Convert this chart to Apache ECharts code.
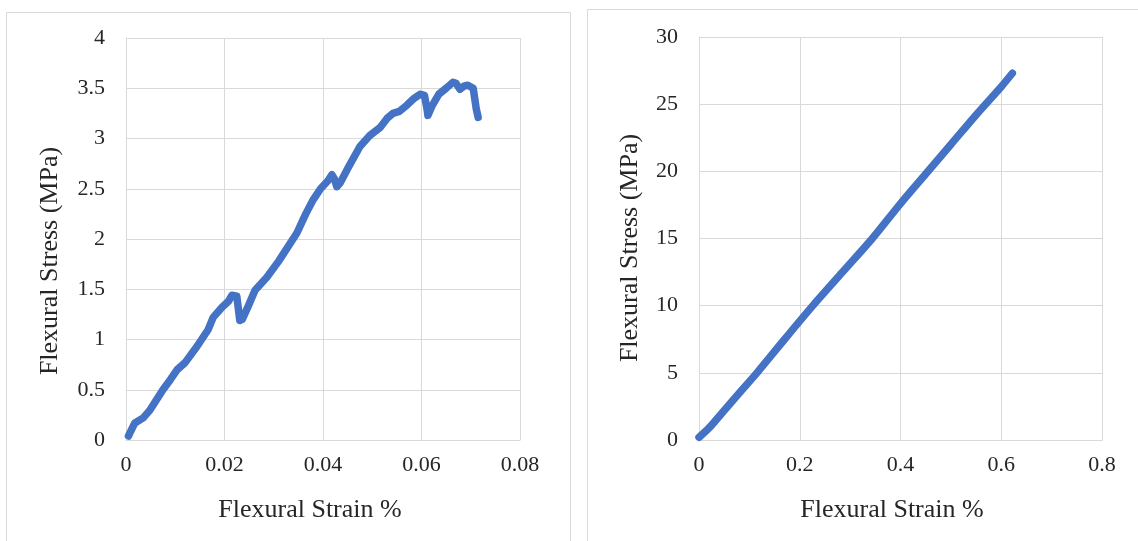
<!DOCTYPE html>
<html>
<head>
<meta charset="utf-8">
<script src="https://cdn.jsdelivr.net/npm/echarts@6/dist/echarts.min.js"></script>
<style>
html,body{margin:0;padding:0;background:#fff;}
#chart{width:1138px;height:541px;}
</style>
</head>
<body>
<div id="chart"></div>
<script>
// Left panel: strain (%) vs stress (MPa)
const leftStrain = [0.0005,0.0008,0.0018,0.0035,0.0049,0.0062,0.0075,0.009,0.0104,0.012,0.0144,0.0167,0.0177,0.0195,0.0208,0.0215,0.0225,0.0229,0.0231,0.0236,0.0248,0.0262,0.0286,0.031,0.0347,0.0365,0.038,0.0395,0.041,0.0418,0.0423,0.0428,0.0435,0.045,0.0475,0.0495,0.0516,0.053,0.0542,0.0555,0.057,0.0585,0.0597,0.0601,0.0606,0.0611,0.0613,0.0622,0.0635,0.065,0.0664,0.067,0.0678,0.0686,0.0694,0.0698,0.0705,0.0711,0.0715];
const leftStress = [0.04,0.07,0.17,0.22,0.3,0.4,0.5,0.6,0.7,0.77,0.93,1.1,1.22,1.32,1.38,1.44,1.43,1.42,1.19,1.2,1.33,1.49,1.62,1.78,2.06,2.25,2.39,2.5,2.58,2.64,2.6,2.52,2.56,2.7,2.92,3.03,3.11,3.2,3.25,3.27,3.33,3.4,3.44,3.45,3.43,3.3,3.23,3.33,3.44,3.5,3.56,3.55,3.49,3.52,3.53,3.52,3.5,3.3,3.21];
// Right panel
const rightStrain = [0,0.02,0.05,0.08,0.115,0.17,0.226,0.285,0.344,0.4,0.45,0.5,0.55,0.6,0.622];
const rightStress = [0.2,0.9,2.2,3.5,5,7.5,10,12.5,15,17.6,19.8,22.0,24.2,26.3,27.3];

const leftXTicks = {min:0, max:0.08, interval:0.02};
const leftYTicks = {min:0, max:4, interval:0.5};
const rightXTicks = {min:0, max:0.8, interval:0.2};
const rightYTicks = {min:0, max:30, interval:5};

const xTitle = 'Flexural Strain %';
const yTitle = 'Flexural Stress (MPa)';

const FONT = '"Liberation Serif", "Times New Roman", serif';
const TXT = '#262626';
const GRID = '#d9d9d9';
const BLUE = '#4472C4';

function zip(a,b){return a.map((v,i)=>[v,b[i]]);}

function xAxis(idx, t){
  return {type:'value', gridIndex:idx, min:t.min, max:t.max, interval:t.interval,
    axisLine:{show:true, lineStyle:{color:GRID}}, axisTick:{show:false},
    splitLine:{show:true, lineStyle:{color:GRID, width:1}},
    axisLabel:{color:TXT, fontFamily:FONT, fontSize:22, margin:14,
      formatter:v=>String(+v.toFixed(4))}};
}
function yAxis(idx, t){
  return {type:'value', gridIndex:idx, min:t.min, max:t.max, interval:t.interval,
    axisLine:{show:true, lineStyle:{color:GRID}}, axisTick:{show:false},
    splitLine:{show:true, lineStyle:{color:GRID, width:1}},
    axisLabel:{color:TXT, fontFamily:FONT, fontSize:22, margin:21,
      formatter:v=>String(+v.toFixed(4))}};
}
function series(idx, data, smooth){
  return {type:'line', xAxisIndex:idx, yAxisIndex:idx, data:data, symbol:'none',
    smooth:smooth, lineStyle:{color:BLUE, width:7.5, cap:'round', join:'round'}, silent:true};
}
function titleText(x, y, text, rot){
  return {type:'text', x:x, y:y, rotation:rot||0,
    style:{text:text, fill:TXT, font:'26px ' + FONT, textAlign:'center', textVerticalAlign:'middle'}};
}

const chart = echarts.init(document.getElementById('chart'), null, {renderer:'canvas'});
chart.setOption({
  animation:false,
  backgroundColor:'#fff',
  grid:[
    {left:126, top:38, width:394, height:402},
    {left:699, top:37, width:403, height:403}
  ],
  xAxis:[xAxis(0,leftXTicks), xAxis(1,rightXTicks)],
  yAxis:[yAxis(0,leftYTicks), yAxis(1,rightYTicks)],
  series:[series(0, zip(leftStrain,leftStress), false), series(1, zip(rightStrain,rightStress), 0.3)],
  graphic:[
    {type:'rect', shape:{x:6.5, y:12.5, width:564, height:560}, style:{fill:null, stroke:GRID, lineWidth:1}, z:-1},
    {type:'rect', shape:{x:587.5, y:9.5, width:600, height:560}, style:{fill:null, stroke:GRID, lineWidth:1}, z:-1},
    titleText(310, 510, xTitle),
    titleText(892, 510, xTitle),
    titleText(50, 261, yTitle, Math.PI/2),
    titleText(630, 248, yTitle, Math.PI/2)
  ]
});
</script>
</body>
</html>
